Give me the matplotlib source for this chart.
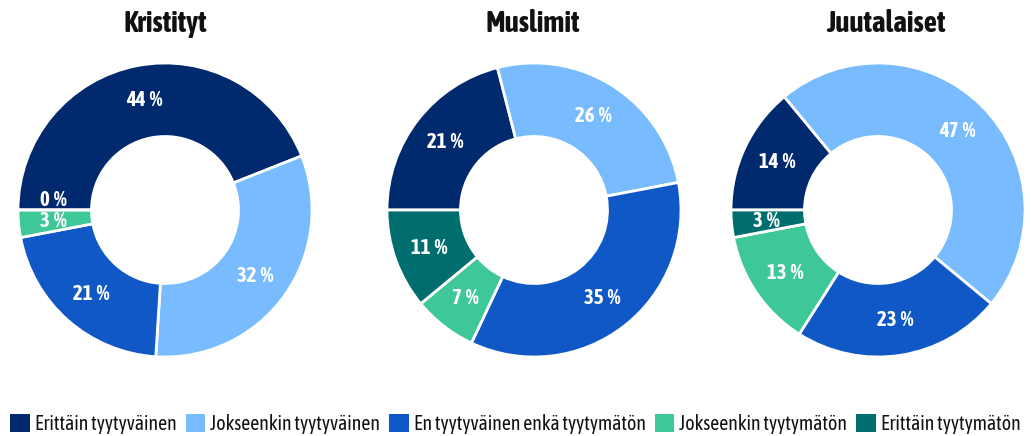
import matplotlib
matplotlib.use("Agg")
import matplotlib.pyplot as plt
from matplotlib import font_manager as fm
from matplotlib.patches import Patch
import numpy as np

titles = ["Kristityt", "Muslimit", "Juutalaiset"]
categories = ["Erittäin tyytyväinen", "Jokseenkin tyytyväinen",
              "En tyytyväinen enkä tyytymätön", "Jokseenkin tyytymätön",
              "Erittäin tyytymätön"]
kristityt = [44, 32, 21, 3, 0]
muslimit = [21, 26, 35, 7, 11]
juutalaiset = [14, 47, 23, 13, 3]
series = [kristityt, muslimit, juutalaiset]
colors = ["#00296e", "#78bcff", "#1158c7", "#3ec797", "#006e6e"]

names = {f.name for f in fm.fontManager.ttflist}
fam = "Asap Condensed" if "Asap Condensed" in names else "DejaVu Sans"
plt.rcParams['font.family'] = [fam, 'DejaVu Sans']

W, H = 1031, 436
fig = plt.figure(figsize=(W/100, H/100), dpi=100)
centers = [(165, 210), (534, 210), (878, 210)]
title_x = [165, 533, 886]
R = 147
half = 150
for (cx, cy), tx, title, vals in zip(centers, title_x, titles, series):
    ax = fig.add_axes([(cx-half)/W, (H-cy-half)/H, 2*half/W, 2*half/H])
    wedges, _ = ax.pie(vals, colors=colors, startangle=180, counterclock=False,
                       radius=1, wedgeprops=dict(width=0.5, edgecolor="white", linewidth=2))
    for w, v in zip(wedges, vals):
        ang = np.deg2rad((w.theta1 + w.theta2) / 2)
        r = 0.76
        x, y = r*np.cos(ang), r*np.sin(ang)
        if v == 0:
            y += 0.07
        ax.text(x, y, f"{v}\u2009%", ha="center", va="center", color="white",
                fontsize=15, fontweight="bold")
    ax.set_xlim(-half/R, half/R)
    ax.set_ylim(-half/R, half/R)
    ax.set_aspect("equal")
    ax.axis("off")
    fig.text(tx/W, 1-23/H, title, ha="center", va="center", fontsize=21, fontweight="bold",
             color="#111111")

handles = [Patch(facecolor=c, edgecolor="none") for c in colors]
fig.legend(handles, categories, loc="center", bbox_to_anchor=(0.5, 1-424/H), ncol=5,
           frameon=False, fontsize=14.2, handlelength=1.0, handleheight=1.0,
           handletextpad=0.25, columnspacing=0.45, borderaxespad=0,
           labelcolor="#111111")

fig.savefig("out.png", dpi=100)
